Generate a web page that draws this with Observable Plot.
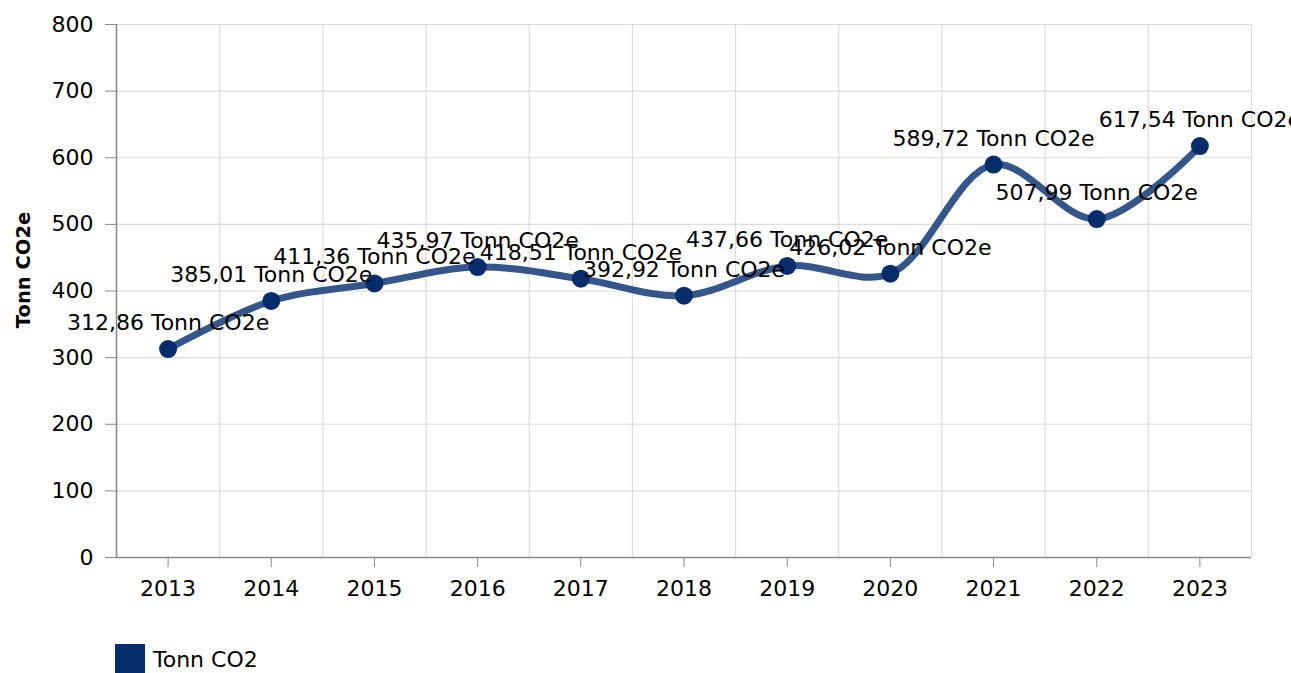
<!DOCTYPE html>
<html>
<head>
<meta charset="utf-8">
<script src="https://cdn.jsdelivr.net/npm/d3@7"></script>
<script src="https://cdn.jsdelivr.net/npm/@observablehq/plot@0.6"></script>
<style>
  html, body { margin: 0; padding: 0; background: #fff; overflow: hidden; }
  body { width: 1291px; height: 673px; position: relative; font-family: "DejaVu Sans", sans-serif; }
  #ytitle { position: absolute; left: 23px; top: 270px; transform: translate(-50%, -50%) rotate(-90deg); font-weight: bold; font-size: 19.5px; white-space: nowrap; color: #000; }
  #legend { position: absolute; left: 115px; top: 644px; display: flex; align-items: center; font-size: 22px; color: #000; }
  #legend .sw { width: 30px; height: 30px; background: #052c6b; margin-right: 8px; }
</style>
</head>
<body>
<div id="chart"></div>
<div id="ytitle">Tonn CO2e</div>
<div id="legend"><div class="sw"></div><span>Tonn CO2</span></div>
<script>
const years = [2013, 2014, 2015, 2016, 2017, 2018, 2019, 2020, 2021, 2022, 2023];
const values = [312.86, 385.01, 411.36, 435.97, 418.51, 392.92, 437.66, 426.02, 589.72, 507.99, 617.54];
const unit = "Tonn CO2e";
const yTicks = [0, 100, 200, 300, 400, 500, 600, 700, 800];

const data = years.map((y, i) => ({year: y, value: values[i], label: values[i].toFixed(2).replace(".", ",") + " " + unit}));
const edges = years.map(y => y - 0.5).concat([years[years.length - 1] + 0.5]);

const chart = Plot.plot({
  width: 1291,
  height: 625,
  marginLeft: 116,
  marginRight: 40,
  marginTop: 24,
  marginBottom: 68,
  style: {fontFamily: "DejaVu Sans, sans-serif", fontSize: "22px", color: "#000", background: "#fff", overflow: "visible"},
  x: {type: "linear", domain: [edges[0], edges[edges.length - 1]]},
  y: {domain: [0, 800]},
  marks: [
    Plot.ruleY(yTicks, {stroke: "#dcdcdc", strokeWidth: 1.2}),
    Plot.ruleX(edges, {stroke: "#dcdcdc", strokeWidth: 1.2}),
    Plot.axisY(yTicks, {tickSize: 11, tickPadding: 12, fontSize: 22, stroke: "#888", label: null, tickFormat: d => String(d)}),
    Plot.axisX(years, {tickSize: 10, tickPadding: 13, fontSize: 22, stroke: "#888", label: null, tickFormat: d => String(d)}),
    Plot.ruleX([edges[0]], {stroke: "#888", strokeWidth: 1.5}),
    Plot.ruleY([0], {stroke: "#888", strokeWidth: 1.5}),
    Plot.line(data, {x: "year", y: "value", curve: "catmull-rom", stroke: "#35568a", strokeWidth: 7}),
    Plot.dot(data, {x: "year", y: "value", r: 9, fill: "#052c6b", stroke: "none"}),
    Plot.text(data, {x: "year", y: "value", text: "label", dy: -26, fontSize: 22, fill: "#000"})
  ]
});
document.getElementById("chart").appendChild(chart);
</script>
</body>
</html>
